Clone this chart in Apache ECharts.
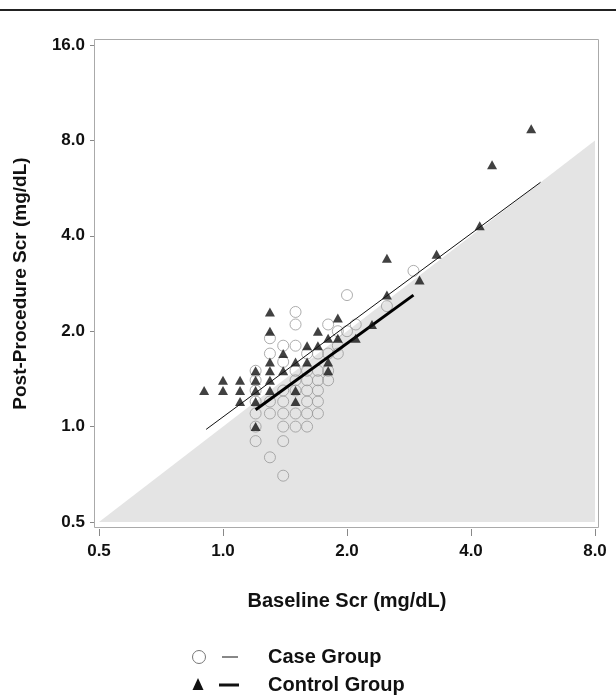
<!DOCTYPE html>
<html><head><meta charset="utf-8">
<script src="https://cdn.jsdelivr.net/npm/echarts@6/dist/echarts.min.js"></script>
<style>html,body{margin:0;padding:0;background:#fff}#c{width:616px;height:698px}</style>
</head><body><div id="c"></div>
<script>
// ---- data (mg/dL) ----
const xTickValues = [0.5, 1, 2, 4, 8];
const yTickValues = [0.5, 1, 2, 4, 8, 16];
const caseBaseline = [1.2,1.2,1.2,1.2,1.2,1.2,1.2, 1.3,1.3,1.3,1.3,1.3, 1.4,1.4,1.4,1.4,1.4,1.4,1.4,1.4, 1.5,1.5,1.5,1.5,1.5,1.5,1.5,1.5, 1.6,1.6,1.6,1.6,1.6,1.6,1.6, 1.7,1.7,1.7,1.7,1.7,1.7, 1.8,1.8,1.8,1.8, 1.9,1.9,1.9, 2.0,2.0, 2.1, 2.5, 2.9];
const casePost     = [1.5,1.4,1.3,1.2,1.1,1.0,0.9, 1.9,1.7,1.2,1.1,0.8, 1.8,1.6,1.3,1.2,1.1,1.0,0.9,0.7, 2.3,2.1,1.8,1.5,1.4,1.3,1.1,1.0, 1.7,1.5,1.4,1.3,1.2,1.1,1.0, 1.7,1.5,1.4,1.3,1.2,1.1, 2.1,1.7,1.5,1.4, 2.0,1.8,1.7, 2.6,2.0, 2.1, 2.4, 3.1];
const controlBaseline = [0.9, 1.0,1.0, 1.1,1.1,1.1, 1.2,1.2,1.2,1.2,1.2, 1.3,1.3,1.3,1.3,1.3,1.3, 1.4,1.4, 1.5,1.5,1.5, 1.6,1.6, 1.7,1.7, 1.8,1.8,1.8, 1.9,1.9, 2.1, 2.3, 2.5,2.5, 3.0, 3.3, 4.2, 4.5, 5.6];
const controlPost     = [1.3, 1.4,1.3, 1.4,1.3,1.2, 1.5,1.4,1.3,1.2,1.0, 2.3,2.0,1.6,1.5,1.4,1.3, 1.7,1.5, 1.6,1.3,1.2, 1.8,1.6, 2.0,1.8, 1.9,1.6,1.5, 2.2,1.9, 1.9, 2.1, 3.4,2.6, 2.9, 3.5, 4.3, 6.7, 8.7];
const caseFitX = [0.91, 5.9], caseFitY = [0.98, 5.9];
const controlFitX = [1.2, 2.9], controlFitY = [1.13, 2.6];
const identityX = [0.5, 8], identityY = [0.5, 8];

const zip = (a, b) => a.map((v, i) => [v, b[i]]);
const FONT = 'Liberation Sans, Arial, sans-serif';
const chart = echarts.init(document.getElementById('c'), null, {renderer: 'canvas'});
const fmt = v => Number(v).toFixed(1);

chart.setOption({
  animation: false,
  backgroundColor: '#fff',
  grid: {left: 99, right: 21, top: 45, bottom: 176, show: false},
  xAxis: {
    type: 'log', logBase: 2, min: 0.5, max: 8, offset: 7,
    axisLine: {show: false},
    axisTick: {show: true, length: 7, lineStyle: {color: '#888'}},
    minorTick: {show: false}, splitLine: {show: false},
    axisLabel: {formatter: fmt, margin: 14, color: '#111', fontFamily: FONT, fontWeight: 'bold', fontSize: 17},
    name: 'Baseline Scr (mg/dL)', nameLocation: 'middle', nameGap: 62,
    nameTextStyle: {color: '#111', fontFamily: FONT, fontWeight: 'bold', fontSize: 20}
  },
  yAxis: {
    type: 'log', logBase: 2, min: 0.5, max: 16, offset: 5,
    axisLine: {show: false},
    axisTick: {show: true, length: 4, lineStyle: {color: '#888'}},
    minorTick: {show: false}, splitLine: {show: false},
    axisLabel: {formatter: fmt, margin: 9, color: '#111', fontFamily: FONT, fontWeight: 'bold', fontSize: 17},
    name: 'Post-Procedure Scr (mg/dL)', nameLocation: 'middle', nameGap: 64, nameRotate: 90,
    nameTextStyle: {color: '#111', fontFamily: FONT, fontWeight: 'bold', fontSize: 19}
  },
  graphic: [
    {type: 'line', shape: {x1: 0, y1: 10, x2: 616, y2: 10}, style: {stroke: '#222', lineWidth: 2}},
    {type: 'rect', shape: {x: 94.5, y: 39.5, width: 504, height: 488}, style: {fill: null, stroke: '#aaa', lineWidth: 1}, z: 100},
    // legend
    {type: 'circle', shape: {cx: 199, cy: 657, r: 6.5}, style: {fill: '#fff', stroke: '#777', lineWidth: 1}},
    {type: 'line', shape: {x1: 222, y1: 657, x2: 238, y2: 657}, style: {stroke: '#111', lineWidth: 1}},
    {type: 'text', left: 268, top: 647, style: {text: 'Case Group', fill: '#111', font: 'bold 20px ' + FONT}},
    {type: 'polygon', shape: {points: [[198, 678], [192.5, 690], [203.5, 690]]}, style: {fill: '#111'}},
    {type: 'line', shape: {x1: 219, y1: 685, x2: 239, y2: 685}, style: {stroke: '#111', lineWidth: 3}},
    {type: 'text', left: 268, top: 675, style: {text: 'Control Group', fill: '#111', font: 'bold 20px ' + FONT}}
  ],
  series: [
    {type: 'line', data: zip(identityX, identityY), symbol: 'none', lineStyle: {width: 0},
     areaStyle: {color: '#e4e4e4', opacity: 1, origin: 'start'}, silent: true, z: 1},
    {type: 'scatter', name: 'Case Group', data: zip(caseBaseline, casePost), symbol: 'circle', symbolSize: 11,
     itemStyle: {color: 'rgba(0,0,0,0)', borderColor: '#999', borderWidth: 1}, z: 3},
    {type: 'line', data: zip(caseFitX, caseFitY), symbol: 'none', lineStyle: {color: '#111', width: 1}, z: 4},
    {type: 'line', data: zip(controlFitX, controlFitY), symbol: 'none', lineStyle: {color: '#000', width: 3}, z: 4},
    {type: 'scatter', name: 'Control Group', data: zip(controlBaseline, controlPost), symbol: 'triangle', symbolSize: [10, 9],
     itemStyle: {color: '#111'}, z: 5}
  ]
});
</script></body></html>
